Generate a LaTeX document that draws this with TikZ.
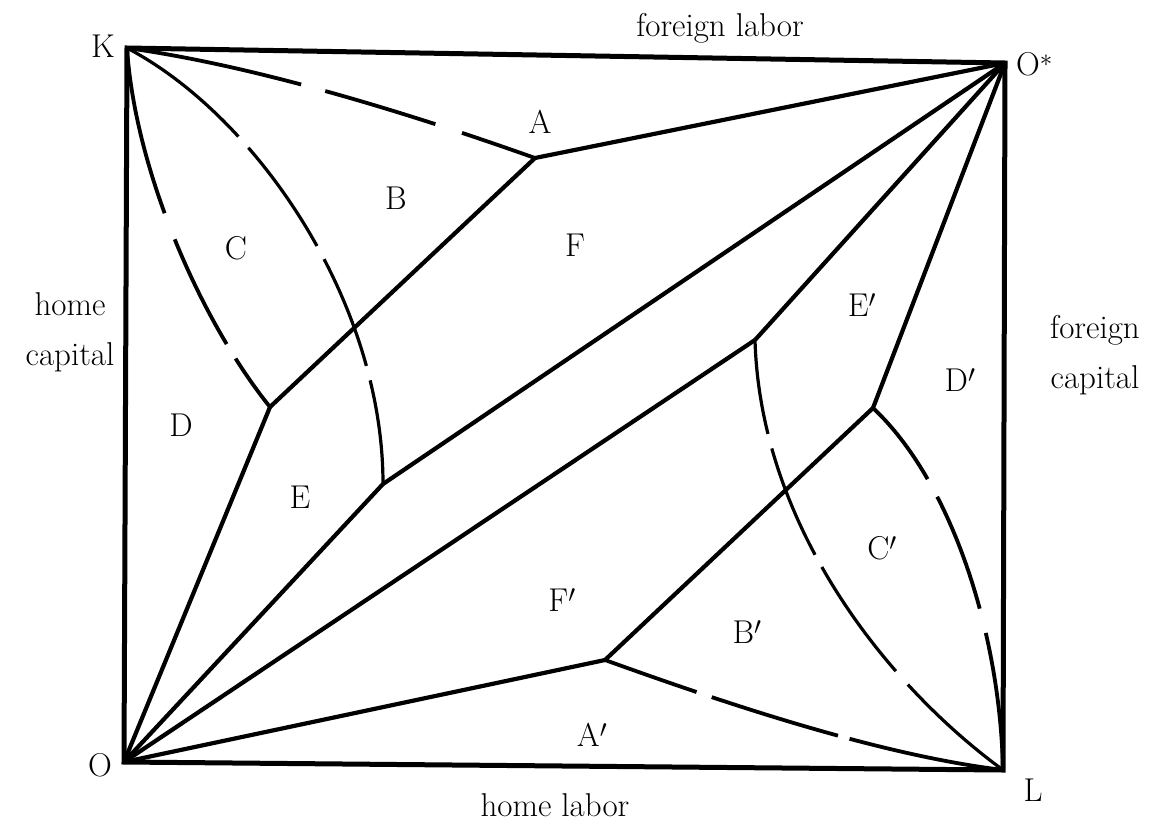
\documentclass[tikz,border=0pt]{standalone}
\begin{document}
\begin{tikzpicture}[x=1pt,y=-1pt,
  frame/.style={line width=5pt, line join=miter},
  sline/.style={line width=4.2pt, line join=round},
  thinarc/.style={line width=3.2pt},
  dline/.style={line width=3.8pt},
  lab/.style={font=\fontsize{33}{50}\selectfont, inner sep=0pt, align=center},
]
\useasboundingbox (0,0) rectangle (1158,830);
% corners
\coordinate (K) at (127,48);
\coordinate (Os) at (1005,63);
\coordinate (L) at (1003,770);
\coordinate (O) at (124,762);
% junctions
\coordinate (A) at (535,158);
\coordinate (J1) at (270,407);
\coordinate (J2) at (383,484);
\coordinate (J3) at (755,340);
\coordinate (J4) at (873,408);
\coordinate (J5) at (605,660);
% frame
\draw[frame] (K) -- (Os) -- (L) -- (O) -- cycle;
% solid lines
\draw[sline] (A) -- (Os);
\draw[sline] (A) -- (J1);
\draw[sline] (J1) -- (O);
\draw[sline] (J2) -- (O);
\draw[sline] (J2) -- (Os);
\draw[sline] (O) -- (J3);
\draw[sline] (J3) -- (Os);
\draw[sline] (Os) -- (J4);
\draw[sline] (J4) -- (J5);
\draw[sline] (J5) -- (O);
% dashed curves (upper left)
\draw[dline, dash pattern=on 178pt off 25pt on 115pt off 28pt on 300pt]
  (K) .. controls (250,65) and (400,110) .. (A);
\draw[dline, dash pattern=on 170pt off 28pt on 117pt off 17pt on 300pt]
  (K) .. controls (135,170) and (200,320) .. (J1);
\draw[thinarc, dash pattern=on 143pt off 15pt on 120pt off 15pt on 115pt off 15pt on 300pt]
  (K) .. controls (255,115) and (383,300) .. (J2);
% dashed curves (lower right)
\draw[thinarc, dash pattern=on 95pt off 15pt on 115pt off 14pt on 128pt off 18pt on 300pt]
  (J3) .. controls (760,520) and (880,680) .. (L);
\draw[dline, dash pattern=on 90pt off 20pt on 120pt off 25pt on 300pt]
  (J4) .. controls (950,480) and (1000,630) .. (L);
\draw[dline, dash pattern=on 97pt off 16pt on 132pt off 12pt on 300pt]
  (J5) .. controls (730,705) and (880,755) .. (L);
% labels
\node[lab] (tfl) at (720,28) {foreign labor};
\node[lab] (thl) at (555,805) {home labor};
\node[lab] (thc) at (70,332) {home\\capital};
\node[lab] (tfc) at (1095,355) {foreign\\capital};
\node[lab] (tK) at (103,46) {K};
\node[lab, anchor=west] (tOs) at (1016,64) {O$^*$};
\node[lab] (tO) at (100,765) {O};
\node[lab] (tL) at (1033,790) {L};
\node[lab] (tA) at (540,122) {A};
\node[lab] (tB) at (396,198) {B};
\node[lab] (tC) at (236,248) {C};
\node[lab] (tD) at (181,425) {D};
\node[lab] (tE) at (300,497) {E};
\node[lab] (tF) at (575,245) {F};
\node[lab] (tEp) at (862,305) {E$'$};
\node[lab] (tDp) at (960,380) {D$'$};
\node[lab] (tCp) at (882,548) {C$'$};
\node[lab] (tBp) at (747,632) {B$'$};
\node[lab] (tFp) at (562,600) {F$'$};
\node[lab] (tAp) at (592,735) {A$'$};
\end{tikzpicture}
\end{document}
